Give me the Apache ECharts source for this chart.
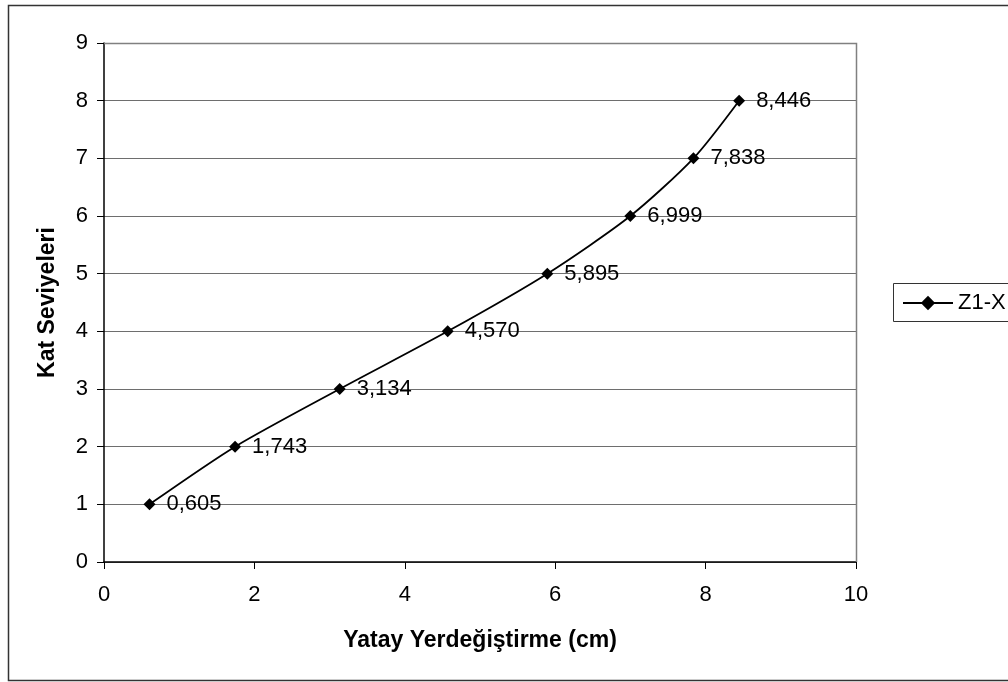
<!DOCTYPE html>
<html>
<head>
<meta charset="utf-8">
<script src="https://cdn.jsdelivr.net/npm/echarts@6/dist/echarts.min.js"></script>
<style>
  html, body { margin: 0; padding: 0; background: #fff; }
  #chart { width: 1008px; height: 682px; }
</style>
</head>
<body>
<div id="chart"></div>
<script>
// Floor levels and horizontal displacement (cm) for Z1-X
const seriesName = 'Z1-X';
const floors = [1, 2, 3, 4, 5, 6, 7, 8];
const displacement = [0.605, 1.743, 3.134, 4.570, 5.895, 6.999, 7.838, 8.446];
const xTitle = 'Yatay Yerdeğiştirme (cm)';
const yTitle = 'Kat Seviyeleri';

const points = displacement.map((x, i) => [x, floors[i]]);
const fmt = v => v.toFixed(3).replace('.', ',');
const font = '"Liberation Sans", Arial, sans-serif';

const chart = echarts.init(document.getElementById('chart'), null, { renderer: 'canvas' });
chart.setOption({
  backgroundColor: '#fff',
  animation: false,
  grid: { left: 104, top: 43, right: 152, bottom: 120, show: false },
  xAxis: {
    type: 'value', min: 0, max: 10, interval: 2,
    name: xTitle, nameLocation: 'middle', nameGap: 67,
    nameTextStyle: { fontFamily: font, fontSize: 23, fontWeight: 'bold', color: '#000' },
    axisLine: { show: true, onZero: false, lineStyle: { color: '#000', width: 1.5 } },
    axisTick: { show: true, length: 7, lineStyle: { color: '#000' } },
    axisLabel: { fontFamily: font, fontSize: 22, color: '#000', margin: 22 },
    splitLine: { show: false }
  },
  yAxis: {
    type: 'value', min: 0, max: 9, interval: 1,
    name: yTitle, nameLocation: 'middle', nameGap: 45,
    nameTextStyle: { fontFamily: font, fontSize: 23, fontWeight: 'bold', color: '#000' },
    axisLine: { show: true, onZero: false, lineStyle: { color: '#000', width: 1.5 } },
    axisTick: { show: true, length: 7, lineStyle: { color: '#000' } },
    axisLabel: { fontFamily: font, fontSize: 22, color: '#000', margin: 16 },
    splitLine: { show: true, lineStyle: { color: '#6e6e6e', width: 1 } }
  },
  series: [{
    name: seriesName,
    type: 'line',
    data: points,
    smooth: 0.25,
    symbol: 'diamond',
    symbolSize: 12,
    itemStyle: { color: '#000' },
    lineStyle: { color: '#000', width: 1.8 },
    label: {
      show: true, position: 'right', distance: 11,
      fontFamily: font, fontSize: 22, color: '#000',
      formatter: p => fmt(p.value[0])
    }
  }],
  legend: {
    left: 902, top: 292, padding: 0,
    itemWidth: 50, itemHeight: 18, itemGap: 4,
    textStyle: { fontFamily: font, fontSize: 22, color: '#000', padding: [0, 0, 0, 0] },
    data: [seriesName]
  },
  graphic: [
    // Outer chart frame
    { type: 'rect', silent: true, z: 100,
      shape: { x: 8.5, y: 5.5, width: 1100, height: 675 },
      style: { fill: 'none', stroke: '#333', lineWidth: 1.5 } },
    // Plot frame (top and right edges)
    { type: 'polyline', silent: true, z: 1,
      shape: { points: [[104, 43.5], [856.5, 43.5], [856.5, 562]] },
      style: { fill: 'none', stroke: '#808080', lineWidth: 1.5 } },
    // Legend box
    { type: 'rect', silent: true, z: 100,
      shape: { x: 893.5, y: 283.5, width: 200, height: 38 },
      style: { fill: 'none', stroke: '#333', lineWidth: 1 } }
  ]
});
</script>
</body>
</html>
